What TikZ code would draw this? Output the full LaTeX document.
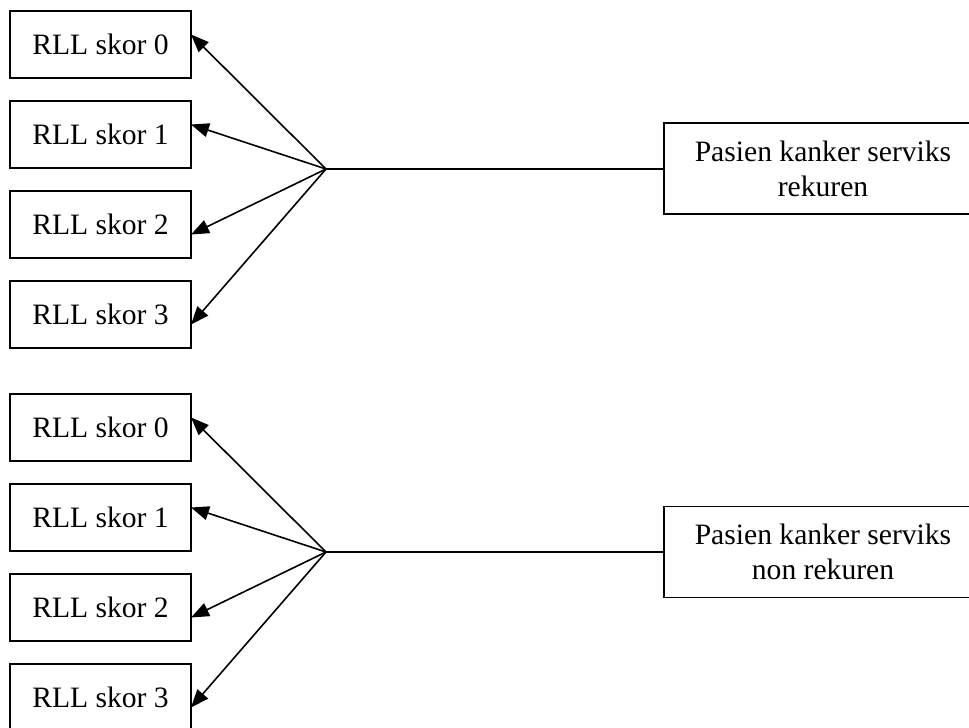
\documentclass[tikz,border=0pt]{standalone}
\usepackage{fontspec}
\setmainfont{Liberation Serif}
\usetikzlibrary{positioning,arrows.meta}

\begin{document}
\begin{tikzpicture}[x=0.5pt, y=-0.5pt, node distance=11.5pt,
  font=\fontsize{14.8}{17.5}\selectfont,
  main/.style = {draw, line width=0.8pt, minimum width=90.5pt, minimum height=33.5pt, inner sep=0pt, outer sep=0pt},
  group/.style = {draw, line width=0.8pt, minimum width=159pt, minimum height=45.5pt, align=center, inner sep=0pt, outer sep=0pt},
  arr/.style = {line width=0.8pt, -{Triangle[length=9pt,width=7pt]}}]
\useasboundingbox (0,0) rectangle (969,728);
\clip (0,0) rectangle (969,728);

\node[main] (1) at (100.5,44.5) {RLL skor 0};
\node[main] (2) [below=of 1] {RLL skor 1};
\node[main] (3) [below=of 2] {RLL skor 2};
\node[main] (4) [below=of 3] {RLL skor 3};
\node[group] (5) at (823,168.5) {Pasien kanker serviks\\ rekuren};
\coordinate (j1) at (326,169);

\node[main] (6) [below=23pt of 4] {RLL skor 0};
\node[main] (7) [below=of 6] {RLL skor 1};
\node[main] (8) [below=of 7] {RLL skor 2};
\node[main] (9) [below=of 8] {RLL skor 3};
\node[group] (10) at (823,552) {Pasien kanker serviks\\ non rekuren};
\coordinate (j2) at (326,552);

\draw[line width=0.8pt] (5.west |- j1) -- (j1);
\draw[arr] (j1) -- ([yshift=5pt]1.east);
\draw[arr] (j1) -- ([yshift=5pt]2.east);
\draw[arr] (j1) -- ([yshift=-5pt]3.east);
\draw[arr] (j1) -- ([yshift=-5pt]4.east);

\draw[line width=0.8pt] (10.west |- j2) -- (j2);
\draw[arr] (j2) -- ([yshift=5pt]6.east);
\draw[arr] (j2) -- ([yshift=5pt]7.east);
\draw[arr] (j2) -- ([yshift=-5pt]8.east);
\draw[arr] (j2) -- ([yshift=-5pt]9.east);
\end{tikzpicture}
\end{document}
